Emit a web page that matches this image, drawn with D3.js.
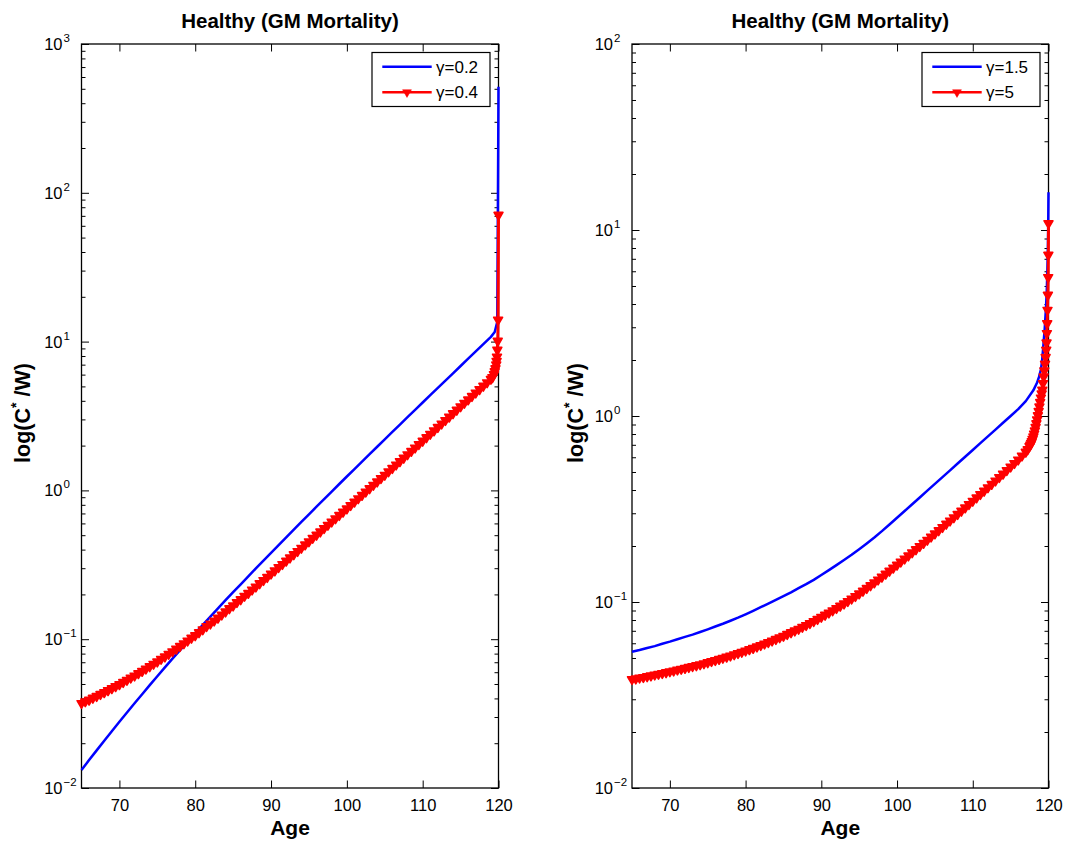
<!DOCTYPE html>
<html><head><meta charset="utf-8">
<script src="https://cdn.jsdelivr.net/npm/d3@7"></script>
<style>
body{margin:0;background:#fff}
svg{display:block}
text{font-family:"Liberation Sans",Arial,Helvetica,sans-serif;fill:#000}
</style>
</head><body>
<svg id="c" width="1068" height="846"></svg>
<script>
// ---------------- data ----------------
const titleText = "Healthy (GM Mortality)";
const xLabelText = "Age";
const xTickValues = [70, 80, 90, 100, 110, 120];
const legendLeft = ["γ=0.2", "γ=0.4"];
const legendRight = ["γ=1.5", "γ=5"];

const ageYears = [65,66,67,68,69,70,71,72,73,74,75,76,77,78,79,80,81,82,83,84,85,86,87,88,89,90,91,92,93,94,95,96,97,98,99,100,101,102,103,104,105,106,107,108,109,110,111,112,113,114,115,116,117,118,119];
const ageHalf = [65,65.5,66,66.5,67,67.5,68,68.5,69,69.5,70,70.5,71,71.5,72,72.5,73,73.5,74,74.5,75,75.5,76,76.5,77,77.5,78,78.5,79,79.5,80,80.5,81,81.5,82,82.5,83,83.5,84,84.5,85,85.5,86,86.5,87,87.5,88,88.5,89,89.5,90,90.5,91,91.5,92,92.5,93,93.5,94,94.5,95,95.5,96,96.5,97,97.5,98,98.5,99,99.5,100,100.5,101,101.5,102,102.5,103,103.5,104,104.5,105,105.5,106,106.5,107,107.5,108,108.5,109,109.5,110,110.5,111,111.5,112,112.5,113,113.5,114,114.5,115,115.5,116,116.5,117,117.5,118,118.5,119];

// Left panel, gamma = 0.2 (blue), yearly 65..119
const leftBlueMain = [0.0132,0.0154,0.0179,0.0208,0.0241,0.0279,0.0322,0.0371,0.0427,0.0491,0.0564,0.0647,0.0740,0.0845,0.0964,0.110,0.125,0.142,0.161,0.183,0.207,0.234,0.264,0.299,0.337,0.380,0.429,0.484,0.545,0.614,0.691,0.777,0.874,0.982,1.104,1.240,1.391,1.561,1.752,1.965,2.204,2.472,2.770,3.105,3.478,3.897,4.364,4.887,5.470,6.124,6.855,7.674,8.590,9.616,10.76];
const leftBlueTailAge = [119.5, 119.84, 120];
const leftBlueTailVal = [11.6, 13.6, 516];

// Left panel, gamma = 0.4 (red), half-yearly 65..119
const leftRedMain = [0.0371,0.0381,0.0391,0.0403,0.0414,0.0427,0.0439,0.0453,0.0467,0.0482,0.0497,0.0514,0.0531,0.0550,0.0568,0.0589,0.0610,0.0632,0.0656,0.0681,0.0706,0.0735,0.0763,0.0794,0.0826,0.0861,0.0897,0.0935,0.0975,0.102,0.106,0.111,0.116,0.122,0.127,0.133,0.139,0.146,0.153,0.161,0.168,0.177,0.185,0.195,0.204,0.215,0.225,0.237,0.249,0.261,0.275,0.289,0.304,0.319,0.336,0.353,0.371,0.390,0.410,0.432,0.453,0.478,0.502,0.528,0.556,0.585,0.615,0.647,0.681,0.717,0.754,0.794,0.837,0.882,0.929,0.978,1.031,1.086,1.144,1.205,1.269,1.338,1.410,1.487,1.567,1.652,1.742,1.836,1.935,2.040,2.150,2.268,2.391,2.522,2.660,2.805,2.958,3.120,3.291,3.471,3.661,3.861,4.072,4.295,4.530,4.775,5.036,5.311,5.602];
const leftRedTailAge = [119.2,119.4,119.5,119.6,119.7,119.75,119.8,119.85,119.9,119.95,120];
const leftRedTailVal = [5.75,6.03,6.3,6.6,7.0,7.4,7.9,8.8,10.1,14.0,71];

// Right panel, gamma = 1.5 (blue), yearly 65..118
const rightBlueMain = [0.0540,0.0552,0.0566,0.0579,0.0596,0.0612,0.0631,0.0649,0.0668,0.0690,0.0713,0.0738,0.0764,0.0793,0.0824,0.0859,0.0897,0.0938,0.0980,0.1026,0.1074,0.1127,0.1186,0.1247,0.1315,0.1396,0.1483,0.1578,0.1683,0.1795,0.1923,0.2065,0.2223,0.2404,0.2612,0.2838,0.3083,0.3354,0.3648,0.3967,0.4315,0.4693,0.5105,0.5553,0.6039,0.6569,0.7145,0.7771,0.8453,0.9193,1.000,1.089,1.202,1.374];
const rightBlueTailAge = [118.5,118.75,119,119.15,119.3,119.5,119.65,119.76,119.85,119.92,119.96,120];
const rightBlueTailVal = [1.514,1.622,1.778,1.972,2.333,2.951,3.715,4.571,6.026,7.943,10.47,15.96];

// Right panel, gamma = 5 (red), half-yearly 65..117
const rightRedMain = [0.0384,0.0387,0.0391,0.0394,0.0398,0.0402,0.0406,0.0410,0.0414,0.0418,0.0423,0.0427,0.0432,0.0436,0.0441,0.0446,0.0451,0.0456,0.0461,0.0467,0.0473,0.0480,0.0486,0.0493,0.0500,0.0507,0.0514,0.0522,0.0530,0.0538,0.0547,0.0556,0.0565,0.0575,0.0585,0.0596,0.0607,0.0619,0.0631,0.0644,0.0656,0.0671,0.0686,0.0701,0.0716,0.0733,0.0750,0.0768,0.0787,0.0808,0.0830,0.0852,0.0875,0.0899,0.0925,0.0952,0.0979,0.1009,0.1040,0.1074,0.1109,0.1147,0.1186,0.1227,0.1271,0.1317,0.1365,0.1416,0.1469,0.1525,0.1583,0.1644,0.1708,0.1774,0.1844,0.1917,0.1993,0.2072,0.2154,0.2241,0.2331,0.2425,0.2523,0.2627,0.2734,0.2847,0.2964,0.3087,0.3216,0.3350,0.3491,0.3639,0.3793,0.3955,0.4124,0.4301,0.4486,0.4681,0.4885,0.5103,0.5333,0.5569,0.5818,0.6106,0.6411];
const rightRedTailAge = [117.25,117.5,117.6,117.7,117.8,117.9,118,118.1,118.2,118.3,118.4,118.5,118.6,118.7,118.8,118.9,119,119.1,119.18,119.27,119.36,119.45,119.54,119.62,119.7,119.74,119.79,119.83,119.87,119.92,119.96,119.98,120];
const rightRedTailVal = [0.6607,0.6871,0.6998,0.7145,0.7311,0.7516,0.7745,0.8017,0.8337,0.8710,0.9120,0.9572,1.007,1.062,1.122,1.186,1.253,1.318,1.380,1.500,1.626,1.754,1.905,2.070,2.265,2.477,2.786,3.148,3.715,4.477,5.572,7.345,10.86];

// ---------------- drawing ----------------
function series(ages, main, tailAges, tailVals) {
  return main.map((v, i) => [ages[i], v]).concat(tailAges.map((a, i) => [a, tailVals[i]]));
}

const svg = d3.select("#c");
const TOP = 44, BOTTOM = 788;
const BLUE = "#0000ff", RED = "#ff0000";
const tri = d3.symbol().type(d3.symbolTriangle).size(34)();

const panels = [
  { left: 81.5, right: 498.5, yDomain: [1e-2, 1e3], ylabX: 30,
    blue: series(ageYears, leftBlueMain, leftBlueTailAge, leftBlueTailVal),
    red: series(ageHalf, leftRedMain, leftRedTailAge, leftRedTailVal),
    legend: legendLeft },
  { left: 632, right: 1048.5, yDomain: [1e-2, 1e2], ylabX: 583,
    blue: series(ageYears, rightBlueMain, rightBlueTailAge, rightBlueTailVal),
    red: series(ageHalf, rightRedMain, rightRedTailAge, rightRedTailVal),
    legend: legendRight }
];

panels.forEach(p => {
  const g = svg.append("g");
  const x = d3.scaleLinear().domain([65, 120]).range([p.left, p.right]);
  const y = d3.scaleLog().domain(p.yDomain).range([BOTTOM, TOP]);
  const k0 = Math.round(Math.log10(p.yDomain[0])), k1 = Math.round(Math.log10(p.yDomain[1]));
  const majors = d3.range(k0, k1 + 1).map(k => Math.pow(10, k));
  const minors = [];
  for (let k = k0; k < k1; k++) for (let m = 2; m <= 9; m++) minors.push(m * Math.pow(10, k));

  g.append("rect").attr("x", p.left).attr("y", TOP).attr("width", p.right - p.left)
    .attr("height", BOTTOM - TOP).attr("fill", "#fff");

  // axes (ticks inward)
  const styleAxis = sel => { sel.select(".domain").remove(); sel.selectAll("line").attr("stroke", "#000").attr("stroke-width", 1); };
  g.append("g").attr("transform", `translate(0,${BOTTOM})`)
    .call(d3.axisBottom(x).tickValues(xTickValues).tickSize(-7.5).tickPadding(11.5).tickFormat(d3.format("d")))
    .call(styleAxis)
    .call(s => s.selectAll("text").attr("font-size", 16.5).attr("font-family", "Liberation Sans, Arial, sans-serif").attr("fill", "#000"));
  g.append("g").attr("transform", `translate(0,${TOP})`)
    .call(d3.axisTop(x).tickValues(xTickValues).tickSize(-7.5).tickFormat(""))
    .call(styleAxis);
  g.append("g").attr("transform", `translate(${p.left},0)`)
    .call(d3.axisLeft(y).tickValues(majors).tickSize(-7.5).tickFormat("")).call(styleAxis);
  g.append("g").attr("transform", `translate(${p.left},0)`)
    .call(d3.axisLeft(y).tickValues(minors).tickSize(-4).tickFormat("")).call(styleAxis);
  g.append("g").attr("transform", `translate(${p.right},0)`)
    .call(d3.axisRight(y).tickValues(majors).tickSize(-7.5).tickFormat("")).call(styleAxis);
  g.append("g").attr("transform", `translate(${p.right},0)`)
    .call(d3.axisRight(y).tickValues(minors).tickSize(-4).tickFormat("")).call(styleAxis);

  // y tick labels 10^k
  majors.forEach(v => {
    const k = Math.round(Math.log10(v));
    const yy = y(v);
    g.append("text").attr("x", p.left - 19).attr("y", yy + 6).attr("text-anchor", "end")
      .attr("font-size", 16.5).text("10");
    g.append("text").attr("x", p.left - 18).attr("y", yy - 2).attr("text-anchor", "start")
      .attr("font-size", 11.5).text(k < 0 ? "\u2212" + Math.abs(k) : String(k));
  });

  // frame
  g.append("rect").attr("x", p.left).attr("y", TOP).attr("width", p.right - p.left)
    .attr("height", BOTTOM - TOP).attr("fill", "none").attr("stroke", "#000").attr("stroke-width", 1.3);

  // data lines
  const line = d3.line().x(d => x(d[0])).y(d => y(d[1]));
  g.append("path").datum(p.blue).attr("d", line).attr("fill", "none")
    .attr("stroke", BLUE).attr("stroke-width", 2.5).attr("stroke-linejoin", "round");
  g.append("path").datum(p.red).attr("d", line).attr("fill", "none")
    .attr("stroke", RED).attr("stroke-width", 3).attr("stroke-linejoin", "round");
  g.append("g").selectAll("path").data(p.red).join("path")
    .attr("d", tri).attr("fill", RED).attr("stroke", RED).attr("stroke-width", 1.6)
    .attr("stroke-linejoin", "round")
    .attr("transform", d => `translate(${x(d[0])},${y(d[1])}) rotate(180)`);

  // title & labels
  const cx = (p.left + p.right) / 2;
  svg.append("text").attr("x", cx).attr("y", 28).attr("text-anchor", "middle")
    .attr("font-size", 20.5).attr("font-weight", "bold").text(titleText);
  svg.append("text").attr("x", cx).attr("y", 835).attr("text-anchor", "middle")
    .attr("font-size", 21).attr("font-weight", "bold").text(xLabelText);
  const yl = svg.append("text").attr("transform", `translate(${p.ylabX},${(TOP + BOTTOM) / 2 - 3}) rotate(-90)`)
    .attr("text-anchor", "middle").attr("font-size", 21.5).attr("font-weight", "bold");
  yl.append("tspan").text("log(C");
  yl.append("tspan").attr("dy", -9).attr("font-size", 14).text("*");
  yl.append("tspan").attr("dy", 9).text(" /W)");

  // legend
  const bw = 118, bh = 54;
  const bx = p.right - 8.5 - bw, by = 52.5;
  const lg = svg.append("g");
  lg.append("rect").attr("x", bx).attr("y", by).attr("width", bw).attr("height", bh)
    .attr("fill", "#fff").attr("stroke", "#000").attr("stroke-width", 1.2);
  const entries = [{ c: BLUE, m: false, t: p.legend[0], dy: 14.2 }, { c: RED, m: true, t: p.legend[1], dy: 39.8 }];
  entries.forEach(e => {
    const ly = by + e.dy;
    lg.append("line").attr("x1", bx + 10.3).attr("x2", bx + 59.7).attr("y1", ly).attr("y2", ly)
      .attr("stroke", e.c).attr("stroke-width", 2.5);
    if (e.m) lg.append("path").attr("d", tri).attr("fill", RED).attr("stroke", RED).attr("stroke-width", 0.5)
      .attr("transform", `translate(${bx + 35},${ly}) rotate(180)`);
    lg.append("text").attr("x", bx + 64).attr("y", ly + 6).attr("font-size", 17).text(e.t);
  });
});
</script>
</body></html>
